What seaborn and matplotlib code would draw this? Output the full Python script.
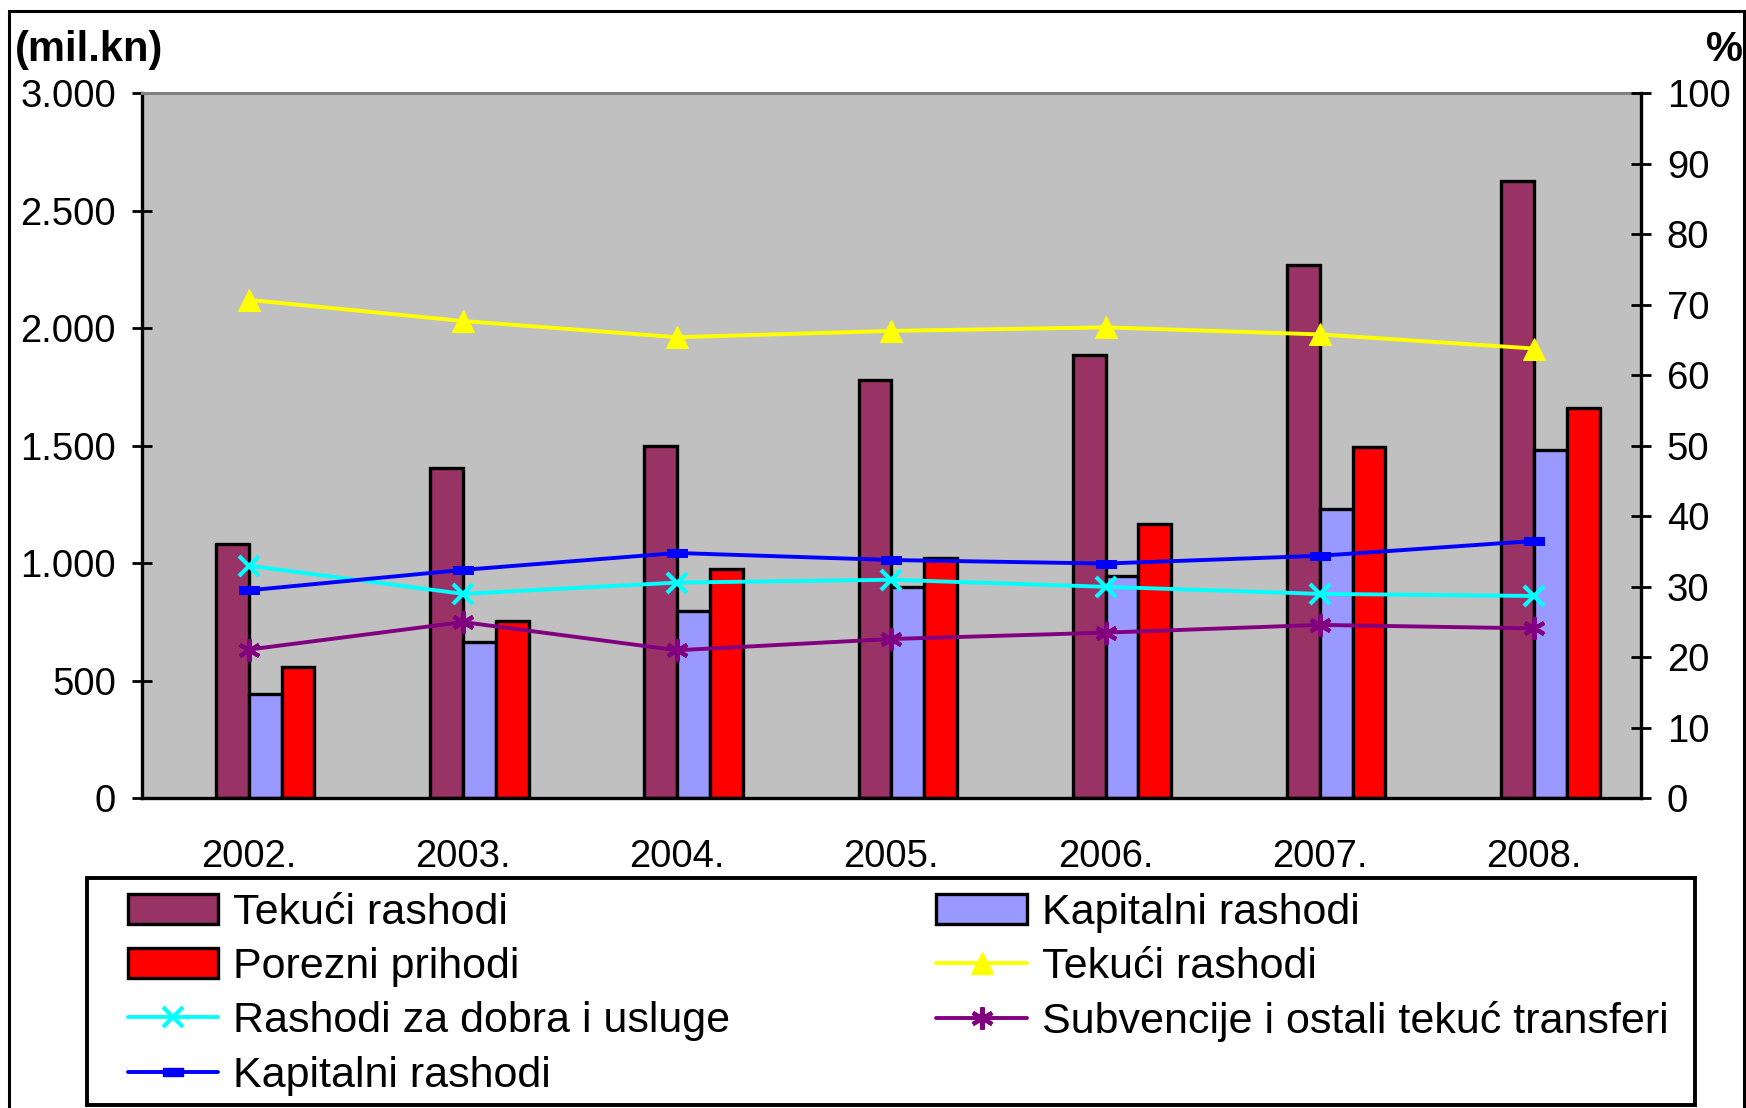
import numpy as np
import pandas as pd
import matplotlib
matplotlib.use("Agg")
import matplotlib.pyplot as plt
from matplotlib.patches import Rectangle, Patch
from matplotlib.lines import Line2D
import seaborn as sns

# data
years = ["2002.", "2003.", "2004.", "2005.", "2006.", "2007.", "2008."]
tekuci_rashodi = [1082, 1407, 1499, 1781, 1885, 2269, 2628]      # mil.kn
kapitalni_rashodi = [442, 665, 798, 900, 947, 1230, 1482]        # mil.kn
porezni_prihodi = [560, 754, 976, 1021, 1167, 1496, 1661]        # mil.kn

tekuci_pct = [70.7, 67.7, 65.4, 66.3, 66.8, 65.8, 63.8]          # %
dobra_usluge_pct = [33.0, 29.0, 30.6, 31.0, 30.0, 29.0, 28.7]     # %
subvencije_pct = [21.1, 25.0, 21.0, 22.6, 23.5, 24.6, 24.1]       # %
kapitalni_pct = [29.5, 32.4, 34.8, 33.8, 33.3, 34.4, 36.5]        # %

left_ticks = [0, 500, 1000, 1500, 2000, 2500, 3000]
right_ticks = [0, 10, 20, 30, 40, 50, 60, 70, 80, 90, 100]

sns.set_style("white")
plt.rcParams["font.family"] = ["Liberation Sans", "DejaVu Sans"]
plt.rcParams["text.color"] = "black"
plt.rcParams["xtick.color"] = "black"
plt.rcParams["ytick.color"] = "black"
plt.rcParams["axes.labelcolor"] = "black"

bar_names = ["_pad", "Tekući rashodi", "Kapitalni rashodi", "Porezni prihodi"]
bar_colors = ["#C0C0C0", "#993366", "#9999FF", "#FF0000"]

df = pd.DataFrame({
    "year": years * 4,
    "series": np.repeat(bar_names, len(years)),
    "value": [0] * len(years) + tekuci_rashodi + kapitalni_rashodi + porezni_prihodi,
})

fig = plt.figure(figsize=(17.46, 11.08), dpi=100)
ax = fig.add_axes([0.0811, 0.2795, 0.8588, 0.6363])
ax.set_facecolor("#C0C0C0")

sns.barplot(data=df, x="year", y="value", hue="series", hue_order=bar_names,
            palette=bar_colors, saturation=1, width=0.613, dodge=True, errorbar=None,
            edgecolor="black", linewidth=2.4, legend=False, ax=ax)
# first hue slot is just an empty spacer, like in the original
for bar in ax.containers[0]:
    bar.set_visible(False)

ax.set_xlim(-0.5, 6.5)
ax.set_ylim(0, 3000)
ax.set_xlabel("")
ax.set_ylabel("")
ax.set_yticks(left_ticks)
ax.set_yticklabels([f"{v:,}".replace(",", ".") for v in left_ticks], fontsize=27.5)
ax.set_xticks(np.arange(-0.5, 7, 1))
ax.set_xticklabels([])
ax.set_xticks(range(len(years)), minor=True)
ax.set_xticklabels(years, minor=True, fontsize=27.5)
ax.tick_params(axis="x", which="major", direction="inout", length=15, width=2)
ax.tick_params(axis="x", which="minor", length=0, pad=29)
ax.tick_params(axis="y", direction="inout", length=15, width=2, pad=11, left=True)
ax.grid(False)
for s in ["left", "bottom"]:
    ax.spines[s].set_color("black")
    ax.spines[s].set_linewidth(2.4)
ax.spines["top"].set_color("#808080")
ax.spines["top"].set_linewidth(2.2)
ax.spines["right"].set_visible(False)

ax2 = ax.twinx()
xs = np.arange(len(years))
dash_marker = [(-1, -0.45), (1, -0.45), (1, 0.45), (-1, 0.45), (-1, -0.45)]
sns.lineplot(x=xs, y=tekuci_pct, ax=ax2, color="#FFFF00", linewidth=2.8,
             marker="^", markersize=16, markeredgecolor="#FFFF00")
sns.lineplot(x=xs, y=dobra_usluge_pct, ax=ax2, color="#00FFFF", linewidth=2.8,
             marker="x", markersize=14, markeredgewidth=3, markeredgecolor="#00FFFF")
sns.lineplot(x=xs, y=subvencije_pct, ax=ax2, color="#800080", linewidth=2.8,
             marker=(6, 2, 0), markersize=16, markeredgewidth=3, markeredgecolor="#800080")
sns.lineplot(x=xs, y=kapitalni_pct, ax=ax2, color="#0000FF", linewidth=2.8,
             marker=dash_marker, markersize=14, markeredgecolor="#0000FF")
ax2.set_ylim(0, 100)
ax2.set_xlim(-0.5, 6.5)
ax2.set_ylabel("")
ax2.set_yticks(right_ticks)
ax2.set_yticklabels([str(v) for v in right_ticks], fontsize=27.5)
ax2.tick_params(axis="y", direction="inout", length=15, width=2, pad=11, right=True)
for s in ["left", "top", "bottom"]:
    ax2.spines[s].set_visible(False)
ax2.spines["right"].set_color("black")
ax2.spines["right"].set_linewidth(2.4)

fig.text(15 / 1746, 1 - 50 / 1108, "(mil.kn)", fontsize=30, fontweight="bold",
         ha="left", va="center")
fig.text(1706 / 1746, 1 - 50 / 1108, "%", fontsize=30, fontweight="bold",
         ha="left", va="center")

# outer chart border and legend box
fig.patches.append(Rectangle((9 / 1746, -0.02), (1744 - 9) / 1746, 1 - 11 / 1108 + 0.02,
                             transform=fig.transFigure, fill=False, lw=2.2, ec="black"))
fig.patches.append(Rectangle((87 / 1746, 3 / 1108), (1695 - 87) / 1746, (1105 - 878) / 1108,
                             transform=fig.transFigure, fill=False, lw=2.8, ec="black"))

h_tek = Patch(facecolor="#993366", edgecolor="black", linewidth=2.4, label="Tekući rashodi")
h_kap = Patch(facecolor="#9999FF", edgecolor="black", linewidth=2.4, label="Kapitalni rashodi")
h_por = Patch(facecolor="#FF0000", edgecolor="black", linewidth=2.4, label="Porezni prihodi")
h_tek_l = Line2D([], [], color="#FFFF00", lw=2.8, marker="^", markersize=16,
                 markeredgecolor="#FFFF00", label="Tekući rashodi")
h_dob = Line2D([], [], color="#00FFFF", lw=2.8, marker="x", markersize=14,
               markeredgewidth=3, label="Rashodi za dobra i usluge")
h_sub = Line2D([], [], color="#800080", lw=2.8, marker=(6, 2, 0), markersize=16,
               markeredgewidth=3, label="Subvencije i ostali tekuć transferi")
h_kap_l = Line2D([], [], color="#0000FF", lw=2.8, marker=dash_marker, markersize=14,
                 label="Kapitalni rashodi")
handles = [h_tek, h_por, h_dob, h_kap_l, h_kap, h_tek_l, h_sub]
fig.legend(handles=handles, loc="upper left", bbox_to_anchor=(128 / 1746, 1 - 893 / 1108),
           ncol=2, frameon=False, fontsize=31, borderpad=0, borderaxespad=0,
           handlelength=2.1, handletextpad=0.35, columnspacing=4.78, labelspacing=0.33)

fig.savefig("out.png", dpi=100)
